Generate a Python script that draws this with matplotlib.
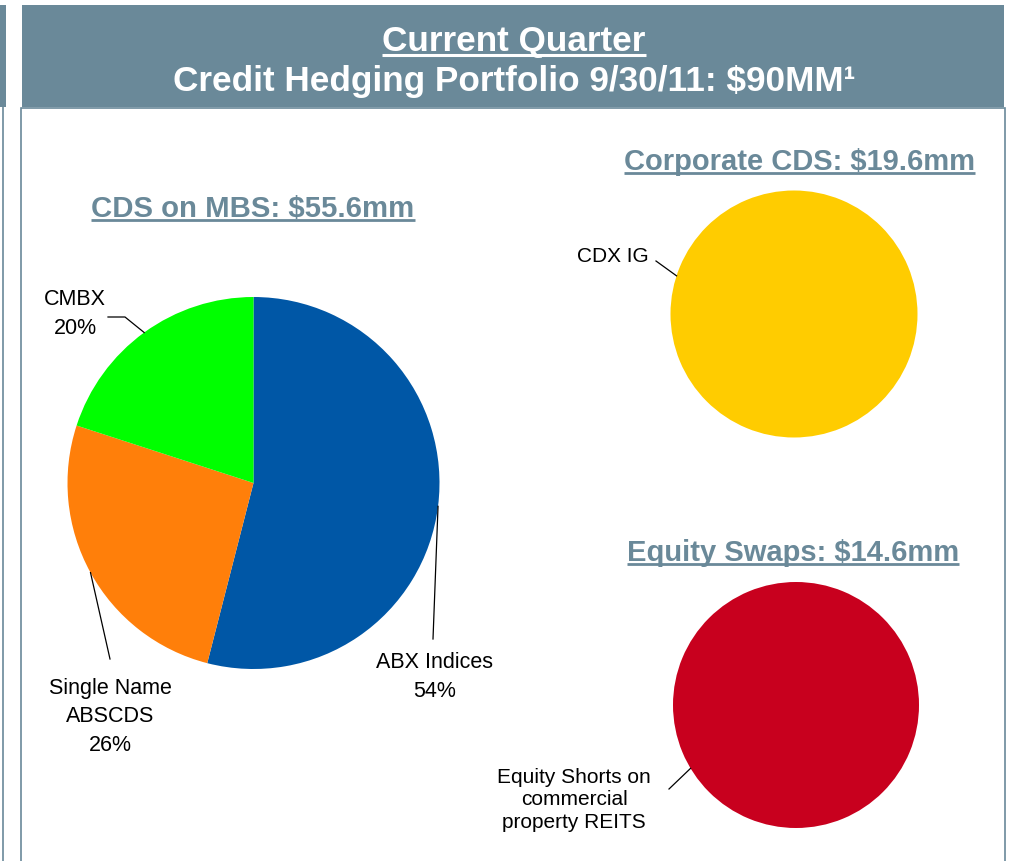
import matplotlib.pyplot as plt
from matplotlib.patches import Rectangle
import numpy as np

plt.rcParams['font.family'] = ['Liberation Sans', 'DejaVu Sans']
plt.rcParams['text.parse_math'] = False

W, H = 1009, 862

header_line1 = "Current Quarter"
header_line2 = "Credit Hedging Portfolio 9/30/11: $90MM\u00b9"

# CDS on MBS
mbs_title = "CDS on MBS: $55.6mm"
mbs_labels = ["ABX Indices", "Single Name\nABSCDS", "CMBX"]
mbs_shares = [54, 26, 20]
mbs_colors = ["#0057A6", "#FF7F0A", "#00FF00"]

# Corporate CDS
corp_title = "Corporate CDS: $19.6mm"
corp_labels = ["CDX IG"]
corp_values = [19.6]
corp_colors = ["#FFCC00"]

# Equity swaps
eq_title = "Equity Swaps: $14.6mm"
eq_labels = ["Equity Shorts on\ncommercial\nproperty REITS"]
eq_values = [14.6]
eq_colors = ["#C8001E"]

slate = "#6A8999"


def py(y):
    # pixel row (from top) -> data y
    return H - y


fig = plt.figure(figsize=(W / 100, H / 100), dpi=100)
ax = fig.add_axes([0, 0, 1, 1])
ax.set_xlim(0, W)
ax.set_ylim(0, H)
ax.set_autoscale_on(False)

# header banner + box
ax.add_patch(Rectangle((0, py(108)), 6, 102, color=slate, lw=0))
ax.plot([3, 3], [py(108), py(862)], color=slate, lw=1.2)
ax.add_patch(Rectangle((22, py(108)), 982, 102, color=slate, lw=0))
ax.add_patch(Rectangle((21, py(875)), 984, 766, facecolor="white",
                       edgecolor=slate, lw=1.2))

fig.canvas.draw()
renderer = fig.canvas.get_renderer()


def underlined(x, y, s, color, size, gap=4, lw=2.0):
    t = ax.text(x, py(y), s, ha="center", va="baseline", color=color,
                fontsize=size, fontweight="bold")
    bb = t.get_window_extent(renderer)
    inv = ax.transData.inverted()
    (x0, _), (x1, _) = inv.transform([[bb.x0, 0], [bb.x1, 0]])
    ax.plot([x0, x1], [py(y + gap), py(y + gap)], color=color, lw=lw,
            solid_capstyle="butt")
    return t


underlined(514, 51, header_line1, "white", 25.3, gap=5, lw=2.2)
ax.text(514, py(91), header_line2, ha="center", va="baseline",
        color="white", fontsize=25.3, fontweight="bold")

underlined(253, 217, mbs_title, slate, 21.2)
underlined(799, 170, corp_title, slate, 21)
underlined(793, 561, eq_title, slate, 21)


def pie(values, colors, cx, cy, r):
    wedges, _ = ax.pie(values, colors=colors, startangle=90, counterclock=False,
                       center=(cx, py(cy)), radius=r,
                       wedgeprops=dict(linewidth=0))
    return wedges


def edge_point(cx, cy, r, ang):
    a = np.radians(ang)
    return cx + r * np.cos(a), py(cy) + r * np.sin(a)


# left pie
cx, cy, r = 253.5, 484, 186
wedges = pie(mbs_shares, mbs_colors, cx, cy, r)
mbs_text_pos = [(435, 677), (110, 717), (75, 314)]
mbs_leaders = [[(433, 640)], [(110, 660)], [(125, 318), (108, 318)]]
for w, lab, v, tp, legs in zip(wedges, mbs_labels, mbs_shares,
                               mbs_text_pos, mbs_leaders):
    mid = (w.theta1 + w.theta2) / 2
    x0, y0 = edge_point(cx, cy, r, mid)
    xs = [x0] + [p[0] for p in legs]
    ys = [y0] + [py(p[1]) for p in legs]
    ax.plot(xs, ys, color="black", lw=0.9)
    ax.text(tp[0], py(tp[1]), f"{lab}\n{v}%", ha="center", va="center",
            fontsize=15.5, linespacing=1.45)

# corporate CDS pie
cx, cy, r = 794, 315, 123.5
pie(corp_values, corp_colors, cx, cy, r)
x0, y0 = edge_point(cx, cy, r, 162)
ax.plot([x0, 656], [y0, py(262)], color="black", lw=0.9)
ax.text(613, py(257), corp_labels[0], ha="center", va="center", fontsize=15)

# equity swaps pie
cx, cy, r = 796, 706, 123
pie(eq_values, eq_colors, cx, cy, r)
x0, y0 = edge_point(cx, cy, r, 211)
ax.plot([x0, 669], [y0, py(790)], color="black", lw=0.9)
ax.text(574, py(800), eq_labels[0], ha="center", va="center", fontsize=15,
        linespacing=1.25)

ax.set_xlim(0, W)
ax.set_ylim(0, H)
ax.set_aspect("auto")
ax.axis("off")

fig.savefig("out.png", dpi=100)
